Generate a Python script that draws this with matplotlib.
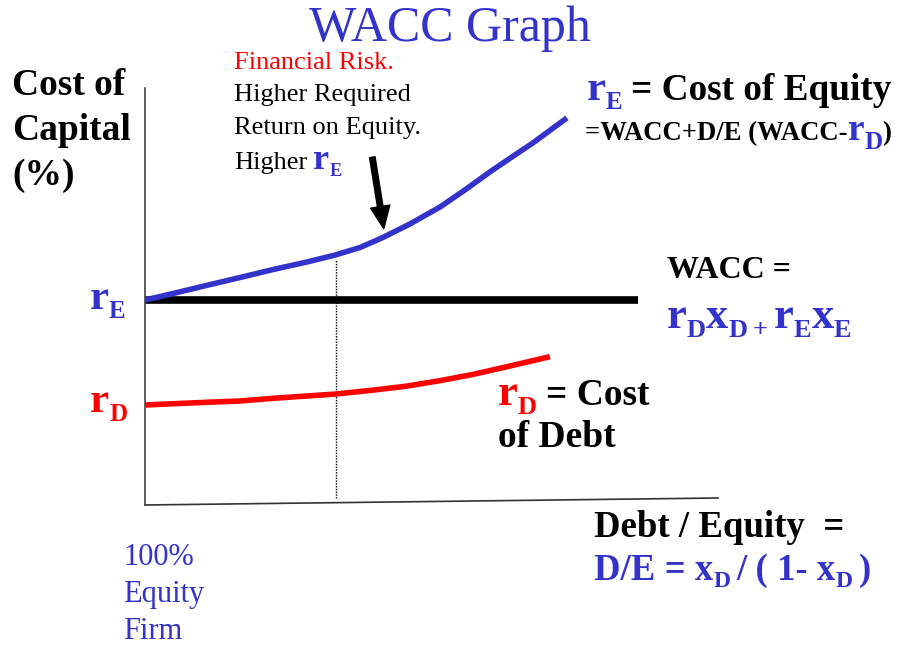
import matplotlib.pyplot as plt

# D/E ratio against cost of capital (%)
de_equity = [0, 0.147, 0.325, 0.497, 0.670, 0.848, 0.995, 1.126, 1.246, 1.387,
             1.545, 1.675, 1.806, 1.921, 2.031, 2.209]
cost_equity = [10.0, 10.31, 10.70, 11.07, 11.45, 11.81, 12.14, 12.50, 12.98, 13.62,
               14.43, 15.24, 16.10, 16.81, 17.48, 18.67]
de_debt = [0, 0.323, 0.497, 0.672, 0.995, 1.196, 1.371, 1.545, 1.719, 1.893, 2.120]
cost_debt = [5.0, 5.13, 5.19, 5.32, 5.52, 5.71, 5.90, 6.16, 6.46, 6.82, 7.30]
de_wacc = [0, 2.58]
wacc = [10.0, 10.0]
de_marker = 1.0

BLUE = '#3333CC'
RED = '#FF0000'
SERIF = 'Liberation Serif'

fig = plt.figure(figsize=(8.98, 6.45), dpi=100)
ax = fig.add_axes([145 / 898, 140 / 645, 573 / 898, 417 / 645])
ax.set_xlim(0, 3)
ax.set_ylim(0.238, 20.095)
ax.set_xticks([])
ax.set_yticks([])
for side in ['top', 'right', 'bottom']:
    ax.spines[side].set_visible(False)
ax.spines['left'].set_color('#444444')
ax.spines['left'].set_linewidth(1.2)
# slightly tilted horizontal axis
ax.plot([0, 1], [0, 0.0168], transform=ax.transAxes, color='#333333', lw=1.2, clip_on=False)

ax.plot(de_wacc, wacc, color='black', lw=5.5, solid_capstyle='butt', zorder=2)
ax.plot(de_equity, cost_equity, color=BLUE, lw=4, solid_capstyle='butt',
        solid_joinstyle='round', zorder=3)
ax.plot(de_debt, cost_debt, color=RED, lw=4, solid_capstyle='butt',
        solid_joinstyle='round', zorder=3)
ax.plot([de_marker, de_marker], [0.55, 11.9], color='black', lw=1, ls=(0, (1, 1)), zorder=1)

ax.annotate('', xy=(1.25, 13.4), xytext=(1.19, 16.8),
            arrowprops=dict(width=4, headwidth=14, headlength=16, color='black'))

# overlay in pixel units for the slide text
tax = fig.add_axes([0, 0, 1, 1])
tax.set_xlim(0, 898)
tax.set_ylim(645, 0)
tax.axis('off')
renderer = fig.canvas.get_renderer()


def draw_runs(x, y, runs):
    # each run: text, size, colour, bold, baseline shift (px), gap after (px)
    for s, size, color, bold, dy, gap in runs:
        t = tax.text(x, y + dy, s, fontsize=size, color=color, family=SERIF,
                     fontweight='bold' if bold else 'normal', ha='left', va='baseline')
        x += t.get_window_extent(renderer).width + gap


def plain(x, y, s, size, color='black', bold=False):
    draw_runs(x, y, [(s, size, color, bold, 0, 0)])


tax.text(450, 41, 'WACC Graph', fontsize=36, color=BLUE, family=SERIF,
         ha='center', va='baseline')

for i, line in enumerate(['Cost of', 'Capital', '(%)']):
    plain(12, 95 + 45 * i, line, 27, bold=True)

plain(234, 69, 'Financial Risk.', 19, RED)
plain(234, 101, 'Higher Required', 19)
plain(234, 134, 'Return on Equity.', 19)
draw_runs(234, 169, [('Higher', 19, 'black', False, 0, 6),
                     ('r', 26, BLUE, True, 0, 0),
                     ('E', 13, BLUE, True, 7, 0)])

draw_runs(587, 100, [('r', 31, BLUE, True, 0, 0),
                     ('E', 18, BLUE, True, 9, 8),
                     ('= Cost of Equity', 26.8, 'black', True, 0, 0)])
draw_runs(585, 140, [('=WACC+D/E (WACC-', 19.3, 'black', True, 0, 0),
                     ('r', 27, BLUE, True, 0, 0),
                     ('D', 18, BLUE, True, 9, 0),
                     (')', 19.3, 'black', True, 0, 0)])

plain(667, 278, 'WACC =', 23, bold=True)
draw_runs(667, 328, [('r', 32, BLUE, True, 0, 0),
                     ('D', 19, BLUE, True, 9, 0),
                     ('x', 32, BLUE, True, 0, 0),
                     ('D', 19, BLUE, True, 9, 6),
                     ('+', 19, BLUE, True, 9, 6),
                     ('r', 32, BLUE, True, 0, 0),
                     ('E', 19, BLUE, True, 9, 0),
                     ('x', 32, BLUE, True, 0, 0),
                     ('E', 19, BLUE, True, 9, 0)])

draw_runs(90, 309, [('r', 31, BLUE, True, 0, 0), ('E', 18, BLUE, True, 9, 0)])
draw_runs(90, 412, [('r', 31, RED, True, 0, 0), ('D', 18, RED, True, 9, 0)])

draw_runs(498, 405, [('r', 32, RED, True, 0, 0),
                     ('D', 19, RED, True, 9, 9),
                     ('= Cost', 27, 'black', True, 0, 0)])
plain(498, 447, 'of Debt', 27, bold=True)

plain(594, 537, 'Debt / Equity  =', 26.5, bold=True)
draw_runs(594, 580, [('D/E = x', 26.5, BLUE, True, 0, 0),
                     ('D', 17, BLUE, True, 7, 6),
                     ('/ ( 1- x', 26.5, BLUE, True, 0, 0),
                     ('D', 17, BLUE, True, 7, 6),
                     (')', 26.5, BLUE, True, 0, 0)])

for i, line in enumerate(['100%', 'Equity', 'Firm']):
    plain(123, 565 + 37 * i, line, 22, BLUE)

fig.savefig('out.png', dpi=100)
